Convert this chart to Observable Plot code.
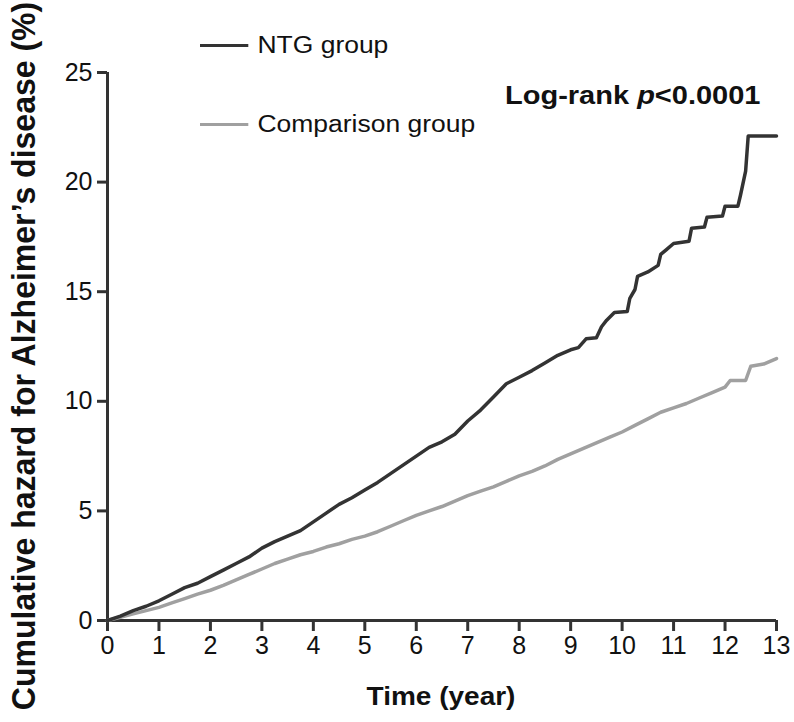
<!DOCTYPE html>
<html>
<head>
<meta charset="utf-8">
<script src="https://cdn.jsdelivr.net/npm/d3@7"></script>
<script src="https://cdn.jsdelivr.net/npm/@observablehq/plot@0.6"></script>
<style>
  html, body { margin: 0; padding: 0; background: #fff; }
  #wrap { position: relative; width: 794px; height: 722px; font-family: "Liberation Sans", Arial, sans-serif; color: #111; overflow: hidden; }
  .ann { position: absolute; white-space: nowrap; line-height: 1; transform-origin: 0 50%; }
  .sw { display: inline-block; width: 42px; height: 0; border-top: 3px solid; vertical-align: middle; margin-right: 8px; position: relative; top: -1px; }
</style>
</head>
<body>
<div id="wrap"></div>
<script>
// Tick labels
const xTicks = [0,1,2,3,4,5,6,7,8,9,10,11,12,13];
const yTicks = [0,5,10,15,20,25];

// NTG group (cumulative hazard, %)
const ntgTime = [0,0.25,0.5,0.75,1,1.25,1.5,1.75,2,2.25,2.5,2.75,3,3.25,3.5,3.75,4,4.25,4.5,4.75,5,5.25,5.5,5.75,6,6.25,6.5,6.75,7,7.25,7.5,7.75,8,8.25,8.5,8.75,9,9.15,9.3,9.5,9.6,9.7,9.85,10.1,10.15,10.25,10.3,10.5,10.7,10.75,10.85,11.0,11.3,11.35,11.6,11.65,11.95,12.0,12.25,12.3,12.4,12.45,13.0];
const ntgHazard = [0,0.2,0.45,0.65,0.9,1.2,1.5,1.7,2.0,2.3,2.6,2.9,3.3,3.6,3.85,4.1,4.5,4.9,5.3,5.6,5.95,6.3,6.7,7.1,7.5,7.9,8.15,8.5,9.1,9.6,10.2,10.8,11.1,11.4,11.75,12.1,12.35,12.45,12.85,12.9,13.4,13.7,14.05,14.1,14.7,15.1,15.7,15.9,16.2,16.7,16.9,17.2,17.3,17.9,17.95,18.4,18.45,18.9,18.9,19.4,20.5,22.1,22.1];

// Comparison group
const cmpTime = [0,0.25,0.5,0.75,1,1.25,1.5,1.75,2,2.25,2.5,2.75,3,3.25,3.5,3.75,4,4.25,4.5,4.75,5,5.25,5.5,5.75,6,6.25,6.5,6.75,7,7.25,7.5,7.75,8,8.25,8.5,8.75,9,9.25,9.5,9.75,10,10.25,10.5,10.75,11,11.25,11.5,11.75,12,12.1,12.4,12.5,12.75,13];
const cmpHazard = [0,0.15,0.3,0.45,0.6,0.8,1.0,1.2,1.38,1.6,1.85,2.1,2.35,2.6,2.8,3.0,3.15,3.35,3.5,3.7,3.85,4.05,4.3,4.55,4.8,5.0,5.2,5.45,5.7,5.9,6.1,6.35,6.6,6.8,7.05,7.35,7.6,7.85,8.1,8.35,8.6,8.9,9.2,9.5,9.7,9.9,10.15,10.4,10.65,10.95,10.95,11.6,11.7,11.95];

const seriesNames = ["NTG group", "Comparison group"];
const seriesColors = ["#333333", "#a0a0a0"];
const xLabel = "Time (year)";
const yLabel = "Cumulative hazard for Alzheimer\u2019s disease (%)";

const ntg = ntgTime.map((t, i) => ({t, h: ntgHazard[i]}));
const cmp = cmpTime.map((t, i) => ({t, h: cmpHazard[i]}));

const chart = Plot.plot({
  width: 794,
  height: 722,
  marginLeft: 107,
  marginRight: 18,
  marginTop: 72,
  marginBottom: 102,
  x: {domain: [0, 13]},
  y: {domain: [0, 25]},
  style: {fontFamily: "'Liberation Sans', Arial, sans-serif", fontSize: "25px", color: "#111", background: "#fff", overflow: "visible"},
  marks: [
    Plot.axisX({ticks: xTicks, tickSize: 11, tickPadding: 5, stroke: "#333", strokeWidth: 3, label: null, fontSize: 25, tickFormat: d => String(d)}),
    Plot.axisY({ticks: yTicks, tickSize: 10, tickPadding: 5, stroke: "#333", strokeWidth: 3, label: null, fontSize: 25, tickFormat: d => String(d)}),
    Plot.ruleY([0], {stroke: "#333", strokeWidth: 3}),
    Plot.ruleX([0], {stroke: "#333", strokeWidth: 3}),
    Plot.line(cmp, {x: "t", y: "h", stroke: seriesColors[1], strokeWidth: 3.5}),
    Plot.line(ntg, {x: "t", y: "h", stroke: seriesColors[0], strokeWidth: 3.5})
  ]
});

const wrap = document.getElementById("wrap");
wrap.appendChild(chart);

function ann(html, css) {
  const d = document.createElement("div");
  d.className = "ann";
  d.innerHTML = html;
  Object.assign(d.style, css);
  wrap.appendChild(d);
  return d;
}

// Legend
ann(`<span class="sw" style="border-color:${seriesColors[0]}"></span>${seriesNames[0]}`, {left: "200px", top: "34px", fontSize: "23px", transform: "scaleX(1.15)"});
ann(`<span class="sw" style="border-color:${seriesColors[1]}"></span>${seriesNames[1]}`, {left: "200px", top: "113px", fontSize: "23px", transform: "scaleX(1.15)"});
// Log-rank
ann(`Log-rank <i>p</i>&lt;0.0001`, {left: "505px", top: "83px", fontSize: "25px", fontWeight: "bold", transform: "scaleX(1.16)"});
// Axis titles
ann(xLabel, {left: "441px", top: "684px", fontSize: "25px", fontWeight: "bold", transformOrigin: "50% 50%", transform: "translateX(-50%) scaleX(1.12)"});
ann(yLabel, {left: "23px", top: "356px", fontSize: "32px", fontWeight: "bold", transformOrigin: "50% 50%", transform: "translate(-50%,-50%) rotate(-90deg) scaleY(1.05)"});
</script>
</body>
</html>
